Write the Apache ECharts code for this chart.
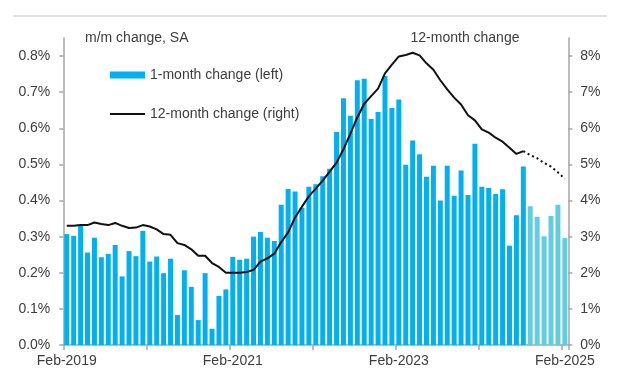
<!DOCTYPE html>
<html>
<head>
<meta charset="utf-8">
<script src="https://cdn.jsdelivr.net/npm/echarts@6/dist/echarts.min.js"></script>
<style>
html,body{margin:0;padding:0;background:#fff;}
#c{width:640px;height:381px;}
</style>
</head>
<body>
<div id="c"></div>
<script>
var categories = [
 'Feb-2019','Mar-2019','Apr-2019','May-2019','Jun-2019','Jul-2019','Aug-2019','Sep-2019','Oct-2019','Nov-2019','Dec-2019','Jan-2020',
 'Feb-2020','Mar-2020','Apr-2020','May-2020','Jun-2020','Jul-2020','Aug-2020','Sep-2020','Oct-2020','Nov-2020','Dec-2020','Jan-2021',
 'Feb-2021','Mar-2021','Apr-2021','May-2021','Jun-2021','Jul-2021','Aug-2021','Sep-2021','Oct-2021','Nov-2021','Dec-2021','Jan-2022',
 'Feb-2022','Mar-2022','Apr-2022','May-2022','Jun-2022','Jul-2022','Aug-2022','Sep-2022','Oct-2022','Nov-2022','Dec-2022','Jan-2023',
 'Feb-2023','Mar-2023','Apr-2023','May-2023','Jun-2023','Jul-2023','Aug-2023','Sep-2023','Oct-2023','Nov-2023','Dec-2023','Jan-2024',
 'Feb-2024','Mar-2024','Apr-2024','May-2024','Jun-2024','Jul-2024','Aug-2024','Sep-2024','Oct-2024','Nov-2024','Dec-2024','Jan-2025',
 'Feb-2025'
];

// 1-month change (left axis, %), actual
var monthActual = [
 0.307,0.302,0.332,0.256,0.297,0.243,0.252,0.277,0.190,0.260,0.246,0.316,
 0.231,0.245,0.199,0.239,0.083,0.207,0.161,0.069,0.199,0.045,0.136,0.154,
 0.244,0.236,0.239,0.300,0.313,0.297,0.288,0.388,0.432,0.425,0.380,0.438,
 0.445,0.467,0.488,0.590,0.683,0.635,0.733,0.737,0.626,0.645,0.745,0.656,
 0.680,0.499,0.566,0.528,0.466,0.496,0.400,0.496,0.413,0.483,0.415,0.557,
 0.438,0.435,0.418,0.431,0.275,0.359,0.494
];
// 1-month change forecast (Sep-2024 .. Feb-2025)
var monthForecast = [0.384,0.355,0.301,0.357,0.388,0.296];

// 12-month change (right axis, %), actual
var yearActual = [
 3.30,3.30,3.32,3.32,3.39,3.35,3.32,3.38,3.30,3.24,3.25,3.32,
 3.28,3.20,3.07,3.05,2.82,2.77,2.65,2.47,2.47,2.27,2.16,2.00,
 2.00,2.00,2.02,2.08,2.31,2.40,2.53,2.85,3.12,3.53,3.83,4.12,
 4.33,4.55,4.80,5.05,5.42,5.85,6.30,6.68,6.89,7.10,7.52,7.76,
 7.99,8.03,8.09,8.02,7.80,7.62,7.33,7.08,6.85,6.66,6.36,6.22,
 5.97,5.88,5.74,5.63,5.46,5.29,5.37
];
// 12-month change forecast (Aug-2024 .. Feb-2025)
var yearForecast = [5.37,5.26,5.17,5.04,4.94,4.78,4.60];

var leftTicks = [0,0.1,0.2,0.3,0.4,0.5,0.6,0.7,0.8];
var rightTicks = [0,1,2,3,4,5,6,7,8];

var FONT = "'Liberation Sans', Arial, sans-serif";
var TXT = '#3d3d3d';
var AXIS = '#a6a6a6';
var BAR = '#00B0F0';
var BAR_FC = '#62CDE0';

var barData = monthActual.slice();
monthForecast.forEach(function(v){ barData.push({value: v, itemStyle: {color: BAR_FC}}); });

var lineData = yearActual.slice();
while (lineData.length < categories.length) lineData.push('-');

var dotData = [];
var startIdx = yearActual.length - 1;
for (var i = 0; i < startIdx; i++) dotData.push('-');
yearForecast.forEach(function(v){ dotData.push(v); });

var chart = echarts.init(document.getElementById('c'), null, {renderer: 'canvas'});
chart.setOption({
  animation: false,
  backgroundColor: '#fff',
  textStyle: {fontFamily: FONT},
  grid: {left: 63.3, right: 71.7, top: 38, bottom: 36},
  xAxis: {
    type: 'category',
    data: categories,
    boundaryGap: true,
    axisLine: {lineStyle: {color: AXIS, width: 1.5}},
    axisTick: {show: true, interval: 11, length: 5, lineStyle: {color: AXIS, width: 1.5}},
    axisLabel: {interval: 23, color: TXT, fontSize: 14, fontFamily: FONT, margin: 9},
    splitLine: {show: false}
  },
  yAxis: [
    {
      type: 'value', min: 0, max: 0.85, interval: 0.1,
      axisLine: {show: true, lineStyle: {color: AXIS, width: 1.5}},
      axisTick: {show: true, length: 4, customValues: leftTicks, lineStyle: {color: AXIS, width: 1.5}},
      axisLabel: {color: TXT, fontSize: 14, fontFamily: FONT, margin: 13, customValues: leftTicks,
        formatter: function(v){ return v.toFixed(1) + '%'; }},
      splitLine: {show: false}
    },
    {
      type: 'value', min: 0, max: 8.5, interval: 1,
      axisLine: {show: true, lineStyle: {color: AXIS, width: 1.5}},
      axisTick: {show: true, length: 4, customValues: rightTicks, lineStyle: {color: AXIS, width: 1.5}},
      axisLabel: {color: TXT, fontSize: 14, fontFamily: FONT, margin: 12, customValues: rightTicks,
        formatter: function(v){ return v.toFixed(0) + '%'; }},
      splitLine: {show: false}
    }
  ],
  legend: [
    {
      data: [{name: '1-month change (left)', icon: 'rect'}],
      left: 105, top: 63, itemWidth: 35, itemHeight: 7,
      textStyle: {color: TXT, fontSize: 14, fontFamily: FONT},
      selectedMode: false
    },
    {
      data: [{name: '12-month change (right)', icon: 'rect', itemStyle: {color: '#111'}}],
      left: 105, top: 102, itemWidth: 35, itemHeight: 2,
      textStyle: {color: TXT, fontSize: 14, fontFamily: FONT},
      selectedMode: false
    }
  ],
  graphic: [
    {type: 'line', shape: {x1: 13, y1: 16, x2: 607, y2: 16}, style: {stroke: '#d6d6d6', lineWidth: 1.5}, silent: true},
    {type: 'text', x: 85, y: 38, style: {text: 'm/m change, SA', fill: TXT, font: '14px ' + FONT, textVerticalAlign: 'middle', verticalAlign: 'middle'}},
    {type: 'text', x: 465, y: 38, style: {text: '12-month change', fill: TXT, font: '14px ' + FONT, textAlign: 'center', align: 'center', textVerticalAlign: 'middle', verticalAlign: 'middle'}}
  ],
  series: [
    {
      name: '1-month change (left)', type: 'bar', data: barData, yAxisIndex: 0,
      barCategoryGap: '28%', itemStyle: {color: BAR}
    },
    {
      name: '12-month change (right)', type: 'line', data: lineData, yAxisIndex: 1,
      symbol: 'none', showSymbol: false, z: 5,
      lineStyle: {color: '#111', width: 2}, itemStyle: {color: '#111'}
    },
    {
      name: '12-month forecast', type: 'line', data: dotData, yAxisIndex: 1,
      symbol: 'none', showSymbol: false, z: 5,
      lineStyle: {color: '#111', width: 2, type: [2, 3]}, itemStyle: {color: '#111'}
    }
  ]
});
</script>
</body>
</html>
